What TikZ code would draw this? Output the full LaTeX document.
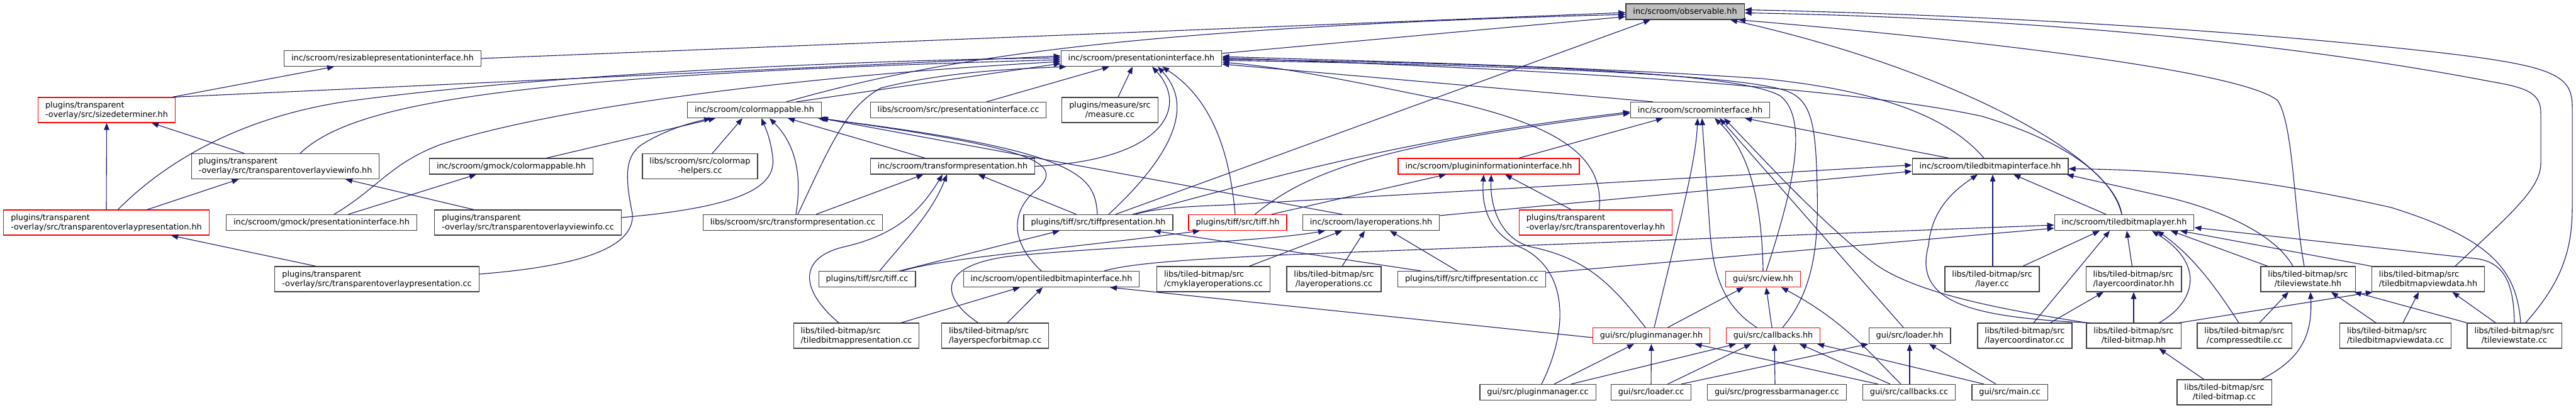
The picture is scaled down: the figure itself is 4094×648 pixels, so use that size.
\documentclass[tikz,border=0pt]{standalone}
\usepackage{fontspec}
\setmainfont{DejaVu Sans}
\usetikzlibrary{arrows.meta}
\definecolor{edgeblue}{HTML}{191970}
\definecolor{boxline}{HTML}{404040}
\definecolor{fillgrey}{HTML}{BFBFBF}
\tikzset{>={Triangle[length=11pt,width=8.5pt]}}

\begin{document}
\begin{tikzpicture}[
    x=1pt, y=1pt,
    hdr/.style={draw=boxline, fill=white, line width=1.2pt, inner xsep=11.5pt, inner ysep=2pt,
      minimum height=25pt, font=\fontsize{12.8}{15}\selectfont, align=left},
    trunc/.style={hdr, draw=red},
    focus/.style={hdr, fill=fillgrey},
    twoline/.style={minimum height=40pt},
    mid/.style={align=center},
    incl/.style={->, draw=edgeblue, line width=1.1pt}
]
\useasboundingbox (0,0) rectangle (4094,-648);

\node[focus] (observable) at (2678,-18.5) {inc/scroom/observable.hh};

\node[hdr] (resizable) at (608,-93) {inc/scroom/resizablepresentationinterface.hh};
\node[hdr] (presint) at (1814,-93) {inc/scroom/presentationinterface.hh};

\node[trunc, twoline] (sizedet) at (169.5,-175) {plugins/transparent\\-overlay/src/sizedeterminer.hh};
\node[hdr] (colormap) at (1199,-175) {inc/scroom/colormappable.hh};
\node[hdr] (presintcc) at (1523,-175) {libs/scroom/src/presentationinterface.cc};
\node[hdr, twoline, mid] (measure) at (1764,-175) {plugins/measure/src\\/measure.cc};
\node[hdr] (scroomint) at (2702,-175) {inc/scroom/scroominterface.hh};

\node[hdr, twoline] (tovinfohh) at (453.5,-264.5) {plugins/transparent\\-overlay/src/transparentoverlayviewinfo.hh};
\node[hdr] (gmockcmap) at (812.5,-264.5) {inc/scroom/gmock/colormappable.hh};
\node[hdr, twoline, mid] (cmaphelp) at (1112.5,-264.5) {libs/scroom/src/colormap\\-helpers.cc};
\node[hdr] (transform) at (1514,-264.5) {inc/scroom/transformpresentation.hh};
\node[trunc] (pluginfo) at (2366,-264.5) {inc/scroom/plugininformationinterface.hh};
\node[hdr] (tbmint) at (3163,-264.5) {inc/scroom/tiledbitmapinterface.hh};

\node[trunc, twoline] (tovpreshh) at (169,-354) {plugins/transparent\\-overlay/src/transparentoverlaypresentation.hh};
\node[hdr] (gmockpres) at (511,-354) {inc/scroom/gmock/presentationinterface.hh};
\node[hdr, twoline] (tovinfocc) at (839,-354) {plugins/transparent\\-overlay/src/transparentoverlayviewinfo.cc};
\node[hdr] (transformcc) at (1260,-354) {libs/scroom/src/transformpresentation.cc};
\node[hdr] (tiffpreshh) at (1745.5,-354) {plugins/tiff/src/tiffpresentation.hh};
\node[trunc] (tiffhh) at (1967,-354) {plugins/tiff/src/tiff.hh};
\node[hdr] (layerops) at (2179,-354) {inc/scroom/layeroperations.hh};
\node[trunc, twoline] (tovhh) at (2536,-354) {plugins/transparent\\-overlay/src/transparentoverlay.hh};
\node[hdr] (tbmlayer) at (3376,-354) {inc/scroom/tiledbitmaplayer.hh};

\node[hdr, twoline] (tovprescc) at (599,-444) {plugins/transparent\\-overlay/src/transparentoverlaypresentation.cc};
\node[hdr] (tiffcc) at (1378,-444) {plugins/tiff/src/tiff.cc};
\node[hdr] (opentbm) at (1671,-444) {inc/scroom/opentiledbitmapinterface.hh};
\node[hdr, twoline] (cmyk) at (1928.5,-444) {libs/tiled-bitmap/src\\/cmyklayeroperations.cc};
\node[hdr, twoline, mid] (layeropscc) at (2120,-444) {libs/tiled-bitmap/src\\/layeroperations.cc};
\node[hdr] (tiffprescc) at (2339,-444) {plugins/tiff/src/tiffpresentation.cc};
\node[trunc] (view) at (2802,-444) {gui/src/view.hh};
\node[hdr, twoline, mid] (layercc) at (3166,-444) {libs/tiled-bitmap/src\\/layer.cc};
\node[hdr, twoline] (laycoordhh) at (3391,-444) {libs/tiled-bitmap/src\\/layercoordinator.hh};
\node[hdr, twoline, mid] (tvshh) at (3668,-444) {libs/tiled-bitmap/src\\/tileviewstate.hh};
\node[hdr, twoline] (tbmvdhh) at (3859,-444) {libs/tiled-bitmap/src\\/tiledbitmapviewdata.hh};

\node[hdr, twoline] (tbmprescc) at (1361,-534) {libs/tiled-bitmap/src\\/tiledbitmappresentation.cc};
\node[hdr, twoline] (layerspec) at (1581.5,-534) {libs/tiled-bitmap/src\\/layerspecforbitmap.cc};
\node[trunc] (pmgrhh) at (2624.5,-534) {gui/src/pluginmanager.hh};
\node[trunc] (callbackshh) at (2818,-534) {gui/src/callbacks.hh};
\node[hdr] (loaderhh) at (3035,-534) {gui/src/loader.hh};
\node[hdr, twoline] (laycoordcc) at (3218,-534) {libs/tiled-bitmap/src\\/layercoordinator.cc};
\node[hdr, twoline, mid] (tbhh) at (3391,-534) {libs/tiled-bitmap/src\\/tiled-bitmap.hh};
\node[hdr, twoline, mid] (ctile) at (3567,-534) {libs/tiled-bitmap/src\\/compressedtile.cc};
\node[hdr, twoline] (tbmvdcc) at (3807,-534) {libs/tiled-bitmap/src\\/tiledbitmapviewdata.cc};
\node[hdr, twoline, mid] (tvscc) at (3996,-534) {libs/tiled-bitmap/src\\/tileviewstate.cc};

\node[hdr] (pmgrcc) at (2444,-624) {gui/src/pluginmanager.cc};
\node[hdr] (loadercc) at (2624,-624) {gui/src/loader.cc};
\node[hdr] (pbm) at (2824,-624) {gui/src/progressbarmanager.cc};
\node[hdr] (callbackscc) at (3034,-624) {gui/src/callbacks.cc};
\node[hdr] (maincc) at (3194,-624) {gui/src/main.cc};
\node[hdr, twoline, mid] (tbcc) at (3535,-624) {libs/tiled-bitmap/src\\/tiled-bitmap.cc};

% into observable
\draw[incl] ([yshift=-5pt]presint.north east) -- ([yshift=-8pt]observable.west);
\draw[incl] (resizable.east) -- ([yshift=-1.5pt]observable.west);
\draw[incl] ([xshift=51pt]colormap.north) .. controls (1470,-100) and (1750,-45) .. ([yshift=-4.5pt]observable.west);
\draw[incl] ([xshift=27.5pt]tiffpreshh.north) -- ([xshift=-55pt]observable.south);
\draw[incl] ([xshift=-4pt]tbmlayer.north) .. controls (3360,-250) and (3100,-110) .. ([xshift=72pt]observable.south);
\draw[incl] ([xshift=-6pt]tvshh.north) .. controls (3645,-330) and (3645,-200) .. (3620,-160) .. controls (3560,-110) and (3100,-60) .. ([xshift=85pt]observable.south);
\draw[incl] ([xshift=43pt]tbmvdhh.north) .. controls (3990,-340) and (4038,-300) .. (4038,-260) -- (4038,-180) .. controls (4038,-150) and (4020,-140) .. (3960,-130) .. controls (3700,-80) and (3300,-30) .. ([yshift=-2pt]observable.east);
\draw[incl] ([xshift=18pt]tvscc.north) .. controls (4070,-450) and (4088,-400) .. (4088,-330) -- (4088,-170) .. controls (4088,-120) and (4060,-105) .. (3880,-84) .. controls (3600,-52) and (3200,-25) .. ([yshift=3pt]observable.east);

% into presentationinterface
\draw[incl] ([xshift=-5pt]sizedet.north east) -- ([xshift=-77pt]resizable.south);
\draw[incl] ([xshift=-2pt]sizedet.north east) -- ([yshift=4pt]presint.west);
\draw[incl] ([xshift=18.5pt]tovpreshh.north) .. controls (260,-260) and (380,-185) .. (560,-160) .. controls (900,-115) and (1400,-95) .. ([yshift=1pt]presint.west);
\draw[incl] ([xshift=23.5pt]tovinfohh.north) .. controls (560,-165) and (800,-120) .. ([yshift=-2pt]presint.west);
\draw[incl] ([xshift=20pt]gmockpres.north) .. controls (600,-300) and (620,-260) .. (700,-230) .. controls (850,-180) and (1200,-125) .. ([yshift=-5pt]presint.west);
\draw[incl] ([xshift=67pt]colormap.north) -- ([yshift=-8pt]presint.west);
\draw[incl] ([xshift=8pt]transformcc.north) .. controls (1320,-230) and (1345,-170) .. (1400,-140) .. controls (1500,-115) and (1600,-110) .. ([xshift=9pt]presint.south west);
\draw[incl] ([xshift=45pt]presintcc.north) -- ([xshift=-51pt]presint.south);
\draw[incl] ([xshift=13pt]measure.north) -- ([xshift=-14pt]presint.south);
\draw[incl] (transform.east) .. controls (1850,-255) and (1890,-170) .. ([xshift=17pt]presint.south);
\draw[incl] ([xshift=16.5pt]tiffpreshh.north) .. controls (1860,-250) and (1900,-170) .. ([xshift=26pt]presint.south);
\draw[incl] ([xshift=-4pt]tiffhh.north) .. controls (1955,-250) and (1930,-160) .. ([xshift=33pt]presint.south);
\draw[incl] ([xshift=-75pt]scroomint.north) -- ([yshift=-9pt]presint.east);
\draw[incl] ([xshift=5.5pt]tovhh.north) .. controls (2550,-250) and (2480,-200) .. (2300,-160) .. controls (2150,-130) and (2050,-108) .. ([yshift=-6pt]presint.east);
\draw[incl] ([xshift=5pt]view.north) .. controls (2850,-300) and (2875,-190) .. (2830,-153) .. controls (2760,-110) and (2300,-100) .. ([yshift=-1pt]presint.east);
\draw[incl] ([xshift=15pt]callbackshh.north) .. controls (2885,-460) and (2890,-380) .. (2888,-300) .. controls (2886,-200) and (2880,-160) .. (2840,-145) .. controls (2760,-115) and (2300,-102) .. ([yshift=-3pt]presint.east);
\draw[incl] ([xshift=-10pt]tbmint.north) .. controls (3100,-190) and (3000,-145) .. (2800,-125) .. controls (2500,-105) and (2200,-98) .. ([yshift=3pt]presint.east);
\draw[incl] ([xshift=-4pt]tbmlayer.north) .. controls (3360,-290) and (3300,-230) .. (3150,-185) .. controls (2900,-130) and (2300,-105) .. ([yshift=1pt]presint.east);

% transparent overlay
\draw[incl] (tovpreshh.north) -- (sizedet.south);
\draw[incl] ([xshift=-65.5pt]tovinfohh.north) -- ([xshift=71.5pt]sizedet.south);
\draw[incl] ([xshift=65pt]tovpreshh.north) -- ([xshift=-74pt]tovinfohh.south);
\draw[incl] ([xshift=-86pt]tovinfocc.north) -- ([xshift=95.5pt]tovinfohh.south);
\draw[incl] ([xshift=-97pt]tovprescc.north) -- ([xshift=103pt]tovpreshh.south);
\draw[incl] ([xshift=42.5pt]gmockpres.north) -- ([xshift=-55.5pt]gmockcmap.south);

% into colormappable
\draw[incl] ([xshift=56pt]gmockcmap.north) -- ([xshift=-62pt]colormap.south);
\draw[incl] ([yshift=8pt]tovprescc.east) .. controls (900,-425) and (1010,-400) .. (1005,-340) .. controls (995,-290) and (990,-250) .. (1020,-230) .. controls (1060,-205) and (1100,-195) .. ([xshift=-69pt]colormap.south);
\draw[incl] ([xshift=19.5pt]cmaphelp.north) -- ([xshift=-19pt]colormap.south);
\draw[incl] ([yshift=8pt]tovinfocc.east) .. controls (1170,-330) and (1235,-300) .. (1228,-250) .. controls (1225,-220) and (1215,-200) .. ([xshift=11pt]colormap.south);
\draw[incl] ([xshift=5pt]transformcc.north) .. controls (1275,-280) and (1265,-230) .. ([xshift=24pt]colormap.south);
\draw[incl] ([xshift=-44pt]transform.north) -- ([xshift=53pt]colormap.south);
\draw[incl] ([xshift=-1.5pt]tiffpreshh.north) .. controls (1740,-280) and (1720,-240) .. ([xshift=101pt]colormap.south);
\draw[incl] ([xshift=-16pt]opentbm.north) .. controls (1600,-380) and (1610,-330) .. (1650,-300) .. controls (1690,-260) and (1650,-236) .. ([xshift=104pt]colormap.south);
\draw[incl] ([xshift=-46pt]layerops.north) -- ([xshift=106pt]colormap.south);

% into transformpresentation and tiff
\draw[incl] ([xshift=37pt]transformcc.north) -- ([xshift=-46.5pt]transform.south);
\draw[incl] ([xshift=-28pt]tbmprescc.north) .. controls (1270,-460) and (1270,-410) .. (1340,-393) .. controls (1420,-375) and (1460,-340) .. ([xshift=-16pt]transform.south);
\draw[incl] ([xshift=20pt]tiffcc.north) .. controls (1440,-380) and (1480,-340) .. ([xshift=-9pt]transform.south);
\draw[incl] ([xshift=-35pt]tiffpreshh.north) -- ([xshift=40.5pt]transform.south);
\draw[incl] ([xshift=51.5pt]tiffcc.north) -- ([xshift=-61.5pt]tiffpreshh.south);
\draw[incl] ([xshift=-81pt]tiffprescc.north) -- ([xshift=88pt]tiffpreshh.south);
\draw[incl] ([xshift=56pt]tiffcc.north) .. controls (1500,-410) and (1700,-395) .. ([xshift=-60pt]tiffhh.south);
\draw[incl] ([xshift=54pt]tiffhh.north) -- ([xshift=-68pt]pluginfo.south);

% into scroominterface and tiledbitmapinterface
\draw[incl] ([xshift=27.5pt]tiffhh.north) .. controls (2080,-270) and (2200,-230) .. ([yshift=-5pt]scroomint.west);
\draw[incl] ([xshift=54.5pt]tiffpreshh.north) .. controls (2000,-290) and (2200,-225) .. ([yshift=-3pt]scroomint.west);
\draw[incl] ([xshift=59pt]tiffpreshh.north) .. controls (1840,-330) and (1900,-328) .. (1950,-326) -- ([yshift=2pt]tbmint.west);
\draw[incl] ([yshift=-2pt]layerops.north east) -- ([yshift=-8pt]tbmint.west);
\draw[incl] ([xshift=48pt]pluginfo.north) -- ([xshift=-59pt]scroomint.south);
\draw[incl] ([xshift=-66pt]tbmint.north) -- ([xshift=71pt]scroomint.south);
\draw[incl] ([xshift=4.5pt]pmgrhh.north) .. controls (2670,-350) and (2695,-260) .. ([xshift=-4pt]scroomint.south);
\draw[incl] ([xshift=-26pt]callbackshh.north) .. controls (2720,-475) and (2720,-400) .. (2715,-330) .. controls (2710,-260) and (2707,-220) .. ([xshift=3pt]scroomint.south);
\draw[incl] (view.north) .. controls (2800,-320) and (2780,-240) .. ([xshift=23pt]scroomint.south);
\draw[incl] ([xshift=-10pt]loaderhh.north) -- ([xshift=31pt]scroomint.south);
\draw[incl] ([xshift=-75pt]tbhh.north) .. controls (3200,-495) and (3050,-470) .. (2980,-420) .. controls (2890,-350) and (2800,-250) .. ([xshift=38pt]scroomint.south);

% into plugininformationinterface
\draw[incl] ([xshift=-39pt]tovhh.north) -- ([xshift=26pt]pluginfo.south);
\draw[incl] ([xshift=6pt]pmgrcc.north) .. controls (2495,-520) and (2490,-430) .. (2420,-395) .. controls (2360,-370) and (2355,-320) .. ([xshift=-8pt]pluginfo.south);
\draw[incl] ([xshift=-9.5pt]pmgrhh.north) .. controls (2560,-450) and (2520,-410) .. (2430,-392) .. controls (2385,-378) and (2368,-330) .. ([xshift=4pt]pluginfo.south);

% into layeroperations and opentiledbitmapinterface
\draw[incl] ([xshift=-27pt]layerspec.north) .. controls (1490,-470) and (1490,-418) .. (1620,-406) .. controls (1800,-390) and (2000,-385) .. ([xshift=-73pt]layerops.south);
\draw[incl] ([xshift=57pt]cmyk.north) -- ([xshift=-46pt]layerops.south);
\draw[incl] ([xshift=13pt]layeropscc.north) -- ([xshift=-10pt]layerops.south);
\draw[incl] ([xshift=-23pt]tiffprescc.north) -- ([xshift=30pt]layerops.south);
\draw[incl] ([xshift=84pt]opentbm.north) .. controls (1800,-418) and (1900,-412) .. (2050,-405) -- ([yshift=-4pt]tbmlayer.west);
\draw[incl] ([yshift=10pt]tiffprescc.east) -- ([yshift=-9pt]tbmlayer.west);
\draw[incl] ([xshift=71pt]tbmprescc.north) -- ([xshift=-50pt]opentbm.south);
\draw[incl] ([xshift=19.5pt]layerspec.north) -- ([xshift=-14pt]opentbm.south);
\draw[incl] ([yshift=-3pt]pmgrhh.west) -- ([xshift=93pt]opentbm.south);

% gui
\draw[incl] ([xshift=26pt]pmgrhh.north) -- ([xshift=-31pt]view.south);
\draw[incl] ([xshift=-2pt]callbackshh.north) -- ([xshift=5pt]view.south);
\draw[incl] ([xshift=-13pt]callbackscc.north) .. controls (2970,-560) and (2930,-510) .. ([xshift=29pt]view.south);
\draw[incl] ([xshift=26pt]pmgrcc.north) -- ([xshift=-27.5pt]pmgrhh.south);
\draw[incl] (loadercc.north) -- (pmgrhh.south);
\draw[incl] ([xshift=-49.5pt]callbackscc.north) -- ([xshift=69pt]pmgrhh.south);
\draw[incl] ([xshift=53pt]pmgrcc.north) -- ([xshift=-59pt]callbackshh.south);
\draw[incl] ([xshift=26.5pt]loadercc.north) -- ([xshift=-35pt]callbackshh.south);
\draw[incl] ([xshift=-3pt]pbm.north) -- ([xshift=2pt]callbackshh.south);
\draw[incl] ([xshift=-30pt]callbackscc.north) -- ([xshift=42pt]callbackshh.south);
\draw[incl] ([xshift=-41pt]maincc.north) -- ([xshift=70pt]callbackshh.south);
\draw[incl] ([xshift=48pt]loadercc.north) -- (loaderhh.south west);
\draw[incl] ([xshift=1pt]callbackscc.north) -- (loaderhh.south);
\draw[incl] ([xshift=-22pt]maincc.north) -- ([xshift=31pt]loaderhh.south);

% tiled bitmap
\draw[incl] ([xshift=1pt]layercc.north) -- ([xshift=4pt]tbmint.south);
\draw[incl] ([xshift=49pt]layercc.north) -- ([xshift=-39pt]tbmlayer.south);
\draw[incl] ([xshift=-29pt]tbmlayer.north) -- ([xshift=37pt]tbmint.south);
\draw[incl] ([xshift=-71pt]tbhh.north) .. controls (3130,-505) and (3040,-480) .. (3065,-390) .. controls (3070,-330) and (3110,-300) .. ([xshift=-20pt]tbmint.south);
\draw[incl] ([xshift=-24pt]tvshh.north) .. controls (3620,-380) and (3550,-340) .. (3450,-315) -- ([xshift=-3pt]tbmint.south east);
\draw[incl] ([xshift=10pt]tvscc.north) .. controls (4000,-430) and (3960,-380) .. (3800,-330) .. controls (3600,-285) and (3450,-270) .. ([yshift=-4pt]tbmint.east);
\draw[incl] ([xshift=14pt]laycoordcc.north) -- ([xshift=-23pt]tbmlayer.south);
\draw[incl] ([xshift=40.5pt]laycoordcc.north) -- ([xshift=-48pt]laycoordhh.south);
\draw[incl] ([xshift=-2.5pt]laycoordhh.north) -- ([xshift=4pt]tbmlayer.south);
\draw[incl] ([xshift=40.5pt]tbhh.north) .. controls (3490,-480) and (3505,-420) .. ([xshift=44pt]tbmlayer.south);
\draw[incl] (tbhh.north) -- (laycoordhh.south);
\draw[incl] ([xshift=-3pt]tbhh.north east) -- ([xshift=2pt]tbmvdhh.south west);
\draw[incl] ([xshift=-9pt]ctile.north) .. controls (3530,-470) and (3490,-410) .. ([xshift=52pt]tbmlayer.south);
\draw[incl] ([xshift=24pt]ctile.north) -- ([xshift=-31pt]tvshh.south);
\draw[incl] ([xshift=-64pt]tvshh.north) -- ([xshift=74pt]tbmlayer.south);
\draw[incl] (tbmvdhh.north west) -- ([xshift=89pt]tbmlayer.south);
\draw[incl] (tvscc.north) .. controls (3995,-450) and (3980,-420) .. (3940,-412) -- ([yshift=-8pt]tbmlayer.east);
\draw[incl] (tvscc.north west) -- ([xshift=-2pt]tvshh.south east);
\draw[incl] ([xshift=-30pt]tvscc.north) -- ([xshift=38.5pt]tbmvdhh.south);
\draw[incl] ([xshift=-31pt]tbmvdcc.north) -- ([xshift=37pt]tvshh.south);
\draw[incl] ([xshift=12pt]tbmvdcc.north) -- ([xshift=-15pt]tbmvdhh.south);
\draw[incl] ([xshift=-32.5pt]tbcc.north) -- ([xshift=40.5pt]tbhh.south);
\draw[incl] ([xshift=59pt]tbcc.north) .. controls (3660,-570) and (3675,-530) .. ([xshift=4pt]tvshh.south);
\end{tikzpicture}
\end{document}
